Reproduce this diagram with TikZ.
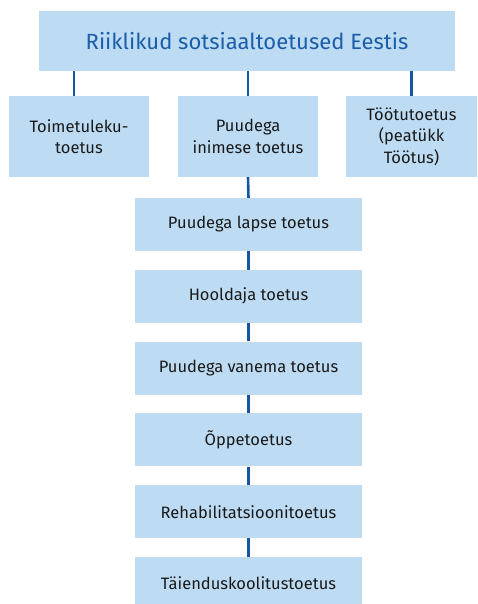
\documentclass[tikz,border=0pt]{standalone}
\usepackage{fontspec}
\setmainfont{Fira Sans}
\definecolor{boxblue}{HTML}{BDDCF3}
\definecolor{linkblue}{HTML}{1456A3}
\definecolor{titleblue}{HTML}{1C5DA9}
\definecolor{textdark}{HTML}{1A1A1A}
\begin{document}
\begin{tikzpicture}[x=1pt,y=-1pt]

\tikzset{box/.style={fill=boxblue,draw=none,inner sep=2pt,align=center,text=textdark,font=\fontsize{16.5}{21.5}\selectfont},
         link/.style={draw=linkblue,line width=2.6pt}}

\useasboundingbox (0,0) rectangle (477,604);

%% Title
\node[box,minimum width=416pt,minimum height=60pt,text=titleblue,font=\fontsize{22}{26}\selectfont] (title) at (247,41) {Riiklikud sotsiaaltoetused Eestis};

%% Second row
\node[box,minimum width=140pt,minimum height=81pt] (toim) at (79,136.5) {Toimetuleku-\\toetus};
\node[box,minimum width=140pt,minimum height=81pt] (puud) at (248,136.5) {Puudega\\inimese toetus};
\node[box,minimum width=131pt,minimum height=81pt] (tootu) at (411.5,136.5) {Töötutoetus\\(peatükk\\Töötus)};

\draw[link] ([xshift=-5pt]toim.north) -- ([xshift=-5pt]toim.north |- title.south);
\draw[link] (puud.north) -- (puud.north |- title.south);
\draw[link] (tootu.north) -- (tootu.north |- title.south);

%% Chain below
\foreach \t [count=\i] in {Puudega lapse toetus,Hooldaja toetus,Puudega vanema toetus,Õppetoetus,Rehabilitatsioonitoetus,Täienduskoolitustoetus}{
    \node[box,minimum width=227pt,minimum height=53pt] (c\i) at (248.5,224.5+71.8*\i-71.8) {\t};
}

\draw[link] (puud.south) -- (c1.north);
\foreach \i [remember=\i as \j (initially 1)] in {2,...,6}{
    \draw[link] (c\j.south) -- (c\i.north);
}

\end{tikzpicture}
\end{document}
